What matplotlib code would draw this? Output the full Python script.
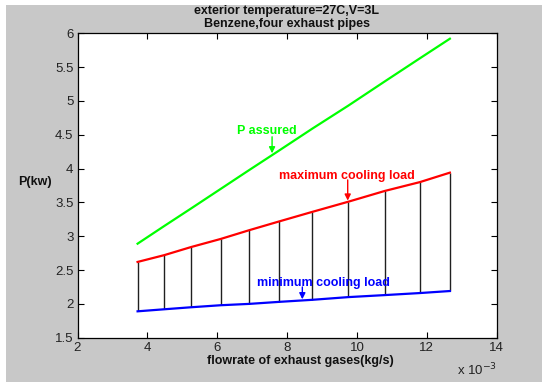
import numpy as np
import matplotlib
matplotlib.use("Agg")
import matplotlib.pyplot as plt
from matplotlib.patches import Rectangle
from matplotlib.ticker import FuncFormatter

plt.rcParams['font.family'] = ['Liberation Sans', 'DejaVu Sans']

# flowrate of exhaust gases (kg/s)
flow = [0.00372, 0.00448, 0.00525, 0.00610, 0.00692, 0.00778,
        0.00872, 0.00975, 0.01080, 0.01180, 0.01266]
# power (kW)
p_assured = [2.89, 3.15, 3.41, 3.70, 3.98, 4.27, 4.59, 4.93, 5.29, 5.63, 5.92]
p_max = [2.62, 2.72, 2.84, 2.96, 3.09, 3.22, 3.36, 3.51, 3.67, 3.80, 3.94]
p_min = [1.89, 1.92, 1.95, 1.98, 2.00, 2.03, 2.06, 2.10, 2.13, 2.16, 2.19]

xticks = [0.002, 0.004, 0.006, 0.008, 0.010, 0.012, 0.014]
yticks = [1.5, 2, 2.5, 3, 3.5, 4, 4.5, 5, 5.5, 6]

W, H = 542, 382
fig = plt.figure(figsize=(W / 100, H / 100), dpi=100)
fig.patch.set_facecolor('white')
fig.patches.append(Rectangle((6 / W, 0), 1 - 6 / W, (H - 5) / H,
                             transform=fig.transFigure, facecolor='#c8c8c8',
                             edgecolor='none', zorder=-10))

ax = fig.add_axes([77.5 / W, 44.3 / H, 419.2 / W, 304.4 / H])
ax.set_facecolor('white')

# shaded band between max and min load drawn as vertical strokes
ax.vlines(flow, p_min, p_max, colors='#202020', linewidth=1.0, zorder=2)
ax.plot(flow, p_assured, color='#00ff00', linewidth=1.6, zorder=3)
ax.plot(flow, p_max, color='#ff0000', linewidth=1.6, zorder=3)
ax.plot(flow, p_min, color='#0000ff', linewidth=1.6, zorder=3)

ax.set_xlim(0.002, 0.014)
ax.set_ylim(1.5, 6)
ax.set_xticks(xticks)
ax.set_yticks(yticks)
ax.xaxis.set_major_formatter(FuncFormatter(lambda v, pos: '%g' % round(v * 1000, 6)))
ax.yaxis.set_major_formatter(FuncFormatter(lambda v, pos: '%g' % v))
ax.tick_params(direction='in', length=4, width=0.8, top=True, right=True,
               labelsize=9.5, colors='black', labelcolor='#222222', pad=3)
for s in ax.spines.values():
    s.set_linewidth(0.9)
    s.set_color('black')


def label(text, color, tx, ty, ax_x, y0, y1):
    ax.text(tx, ty, text, color=color, fontsize=9, fontweight='bold',
            ha='center', va='center', zorder=4)
    ax.annotate('', xy=(ax_x, y1), xytext=(ax_x, y0),
                arrowprops=dict(arrowstyle='-|>', color=color, lw=1.0,
                                mutation_scale=9, shrinkA=0, shrinkB=0),
                zorder=4)


label('P assured', '#00ff00', 0.007425, 4.553, 0.00757, 4.47, 4.226)
label('maximum cooling load', '#ff0000', 0.009724, 3.896, 0.009735, 3.833, 3.527)
label('minimum cooling load', '#0000ff', 0.009028, 2.314, 0.008436, 2.25, 2.068)

fig.text(287 / W, 1 - 11 / H, 'exterior temperature=27C,V=3L', fontsize=9,
         fontweight='bold', ha='center', va='center', color='#111111')
fig.text(287 / W, 1 - 24 / H, 'Benzene,four exhaust pipes', fontsize=9,
         fontweight='bold', ha='center', va='center', color='#111111')
fig.text(300 / W, 1 - 361 / H, 'flowrate of exhaust gases(kg/s)', fontsize=9,
         fontweight='bold', ha='center', va='center', color='#111111')
fig.text(34.5 / W, 1 - 182 / H, 'P(kw)', fontsize=9, fontweight='bold',
         ha='center', va='center', color='#111111')
fig.text(497 / W, 1 - 370 / H, r'x 10$^{-3}$', fontsize=9.5, ha='right',
         va='center', color='#222222')

fig.savefig('out.png', dpi=100, facecolor=fig.get_facecolor())
